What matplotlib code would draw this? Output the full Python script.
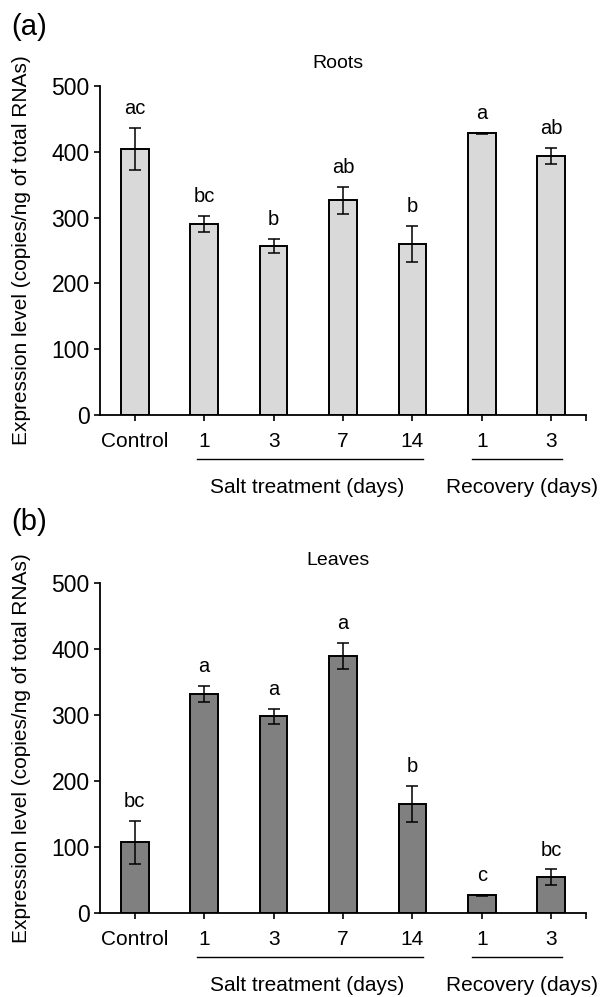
import numpy as np
import matplotlib.pyplot as plt

plt.rcParams['font.family'] = ['Liberation Sans', 'DejaVu Sans']

categories = ['Control', '1', '3', '7', '14', '1', '3']

roots_mean = [404, 290, 257, 326, 260, 428, 394]
roots_err = [32, 12, 11, 20, 27, 1, 12]
roots_letters = ['ac', 'bc', 'b', 'ab', 'b', 'a', 'ab']

leaves_mean = [107, 332, 298, 389, 165, 27, 54]
leaves_err = [32, 12, 11, 20, 27, 1, 12]
leaves_letters = ['bc', 'a', 'a', 'a', 'b', 'c', 'bc']

fig = plt.figure(figsize=(6.01, 9.97), dpi=100)


def panel(rect, means, errs, letters, color, title):
    ax = fig.add_axes(rect)
    x = np.arange(len(categories))
    ax.bar(x, means, width=0.4, color=color, edgecolor='black', linewidth=1.4, zorder=2)
    ax.errorbar(x, means, yerr=errs, fmt='none', ecolor='black',
                elinewidth=1.1, capsize=4.5, capthick=1.1, zorder=3)
    for xi, m, e, lab in zip(x, means, errs, letters):
        ax.annotate(lab, xy=(xi, m + e), xytext=(0, 10), textcoords='offset points',
                    ha='center', va='baseline', fontsize=14.5)

    ax.set_xlim(-0.5, 6.5)
    ax.set_ylim(0, 500)
    ax.set_yticks(range(0, 501, 100))
    ax.set_xticks(x)
    ax.set_xticklabels(categories)
    ax.set_xticks([6.5], minor=True)
    ax.tick_params(axis='both', which='both', direction='out', length=4.5, width=1.2)
    ax.tick_params(axis='x', pad=8, labelsize=15)
    ax.tick_params(axis='y', pad=3, labelsize=16.5)
    for side in ['top', 'right']:
        ax.spines[side].set_visible(False)
    for side in ['left', 'bottom']:
        ax.spines[side].set_linewidth(1.3)

    ax.text(0.49, 1.055, title, transform=ax.transAxes, ha='center',
            va='baseline', fontsize=14)
    ax.set_ylabel('Expression level (copies/ng of total RNAs)', fontsize=15)
    ax.yaxis.set_label_coords(-0.142, 0.5)

    # group brackets under the tick labels
    tr = ax.get_xaxis_transform()
    ax.plot([0.89, 4.15], [-0.134, -0.134], color='black', lw=1.0,
            transform=tr, clip_on=False)
    ax.plot([4.86, 6.15], [-0.134, -0.134], color='black', lw=1.0,
            transform=tr, clip_on=False)
    ax.text(2.49, -0.22, 'Salt treatment (days)', transform=tr,
            ha='center', va='center', fontsize=15)
    ax.text(5.58, -0.22, 'Recovery (days)', transform=tr,
            ha='center', va='center', fontsize=15)
    return ax


panel([100 / 601, 1 - 415 / 997, 486 / 601, 329 / 997],
      roots_mean, roots_err, roots_letters, '#d9d9d9', 'Roots')
panel([100 / 601, 1 - 913 / 997, 486 / 601, 330 / 997],
      leaves_mean, leaves_err, leaves_letters, '#808080', 'Leaves')

fig.text(11 / 601, 1 - 27 / 997, '(a)', fontsize=21, ha='left', va='center')
fig.text(11 / 601, 1 - 522 / 997, '(b)', fontsize=21, ha='left', va='center')

fig.savefig('out.png', dpi=100)
